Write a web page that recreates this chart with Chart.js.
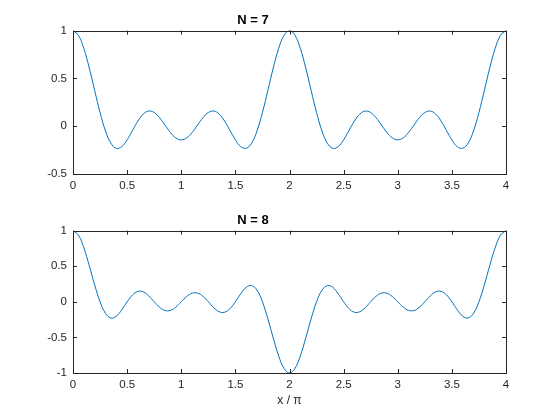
<!DOCTYPE html>
<html>
<head>
<meta charset="utf-8">
<script src="https://cdn.jsdelivr.net/npm/chart.js@4/dist/chart.umd.min.js"></script>
<style>
  html, body { margin: 0; padding: 0; background: #fff; }
  #wrap { position: relative; width: 560px; height: 420px; }
  .box { position: absolute; left: 0; width: 560px; }
</style>
</head>
<body>
<div id="wrap">
  <div class="box" style="top:0;height:200px"><canvas id="top"></canvas></div>
  <div class="box" style="top:200px;height:220px"><canvas id="bottom"></canvas></div>
</div>
<script>
// x / pi, sampled every 0.05
const xValues = [
  0, 0.05, 0.1, 0.15, 0.2, 0.25, 0.3, 0.35, 0.4, 0.45, 0.5, 0.55, 0.6, 0.65, 0.7, 0.75, 0.8, 0.85, 0.9, 0.95,
  1, 1.05, 1.1, 1.15, 1.2, 1.25, 1.3, 1.35, 1.4, 1.45, 1.5, 1.55, 1.6, 1.65, 1.7, 1.75, 1.8, 1.85, 1.9, 1.95,
  2, 2.05, 2.1, 2.15, 2.2, 2.25, 2.3, 2.35, 2.4, 2.45, 2.5, 2.55, 2.6, 2.65, 2.7, 2.75, 2.8, 2.85, 2.9, 2.95,
  3, 3.05, 3.1, 3.15, 3.2, 3.25, 3.3, 3.35, 3.4, 3.45, 3.5, 3.55, 3.6, 3.65, 3.7, 3.75, 3.8, 3.85, 3.9, 3.95, 4
];

const n7 = [
  1, 0.9514, 0.8137, 0.6100, 0.3740, 0.1429, -0.0492, -0.1776, -0.2311, -0.2139,
  -0.1429, -0.0439, 0.0546, 0.1274, 0.1584, 0.1429, 0.0883, 0.0115, -0.0657, -0.1222,
  -0.1429, -0.1222, -0.0657, 0.0115, 0.0883, 0.1429, 0.1584, 0.1274, 0.0546, -0.0439,
  -0.1429, -0.2139, -0.2311, -0.1776, -0.0492, 0.1429, 0.3740, 0.6100, 0.8137, 0.9514,
  1, 0.9514, 0.8137, 0.6100, 0.3740, 0.1429, -0.0492, -0.1776, -0.2311, -0.2139,
  -0.1429, -0.0439, 0.0546, 0.1274, 0.1584, 0.1429, 0.0883, 0.0115, -0.0657, -0.1222,
  -0.1429, -0.1222, -0.0657, 0.0115, 0.0883, 0.1429, 0.1584, 0.1274, 0.0546, -0.0439,
  -0.1429, -0.2139, -0.2311, -0.1776, -0.0492, 0.1429, 0.3740, 0.6100, 0.8137, 0.9514, 1
];

const n8 = [
  1, 0.9364, 0.7600, 0.5092, 0.2378, 0, -0.1618, -0.2275, -0.2023, -0.1131,
  0, 0.0966, 0.1469, 0.1394, 0.0825, 0, -0.0773, -0.1223, -0.1204, -0.0737,
  0, 0.0737, 0.1204, 0.1223, 0.0773, 0, -0.0825, -0.1394, -0.1469, -0.0966,
  0, 0.1131, 0.2023, 0.2275, 0.1618, 0, -0.2378, -0.5092, -0.7600, -0.9364,
  -1, -0.9364, -0.7600, -0.5092, -0.2378, 0, 0.1618, 0.2275, 0.2023, 0.1131,
  0, -0.0966, -0.1469, -0.1394, -0.0825, 0, 0.0773, 0.1223, 0.1204, 0.0737,
  0, -0.0737, -0.1204, -0.1223, -0.0773, 0, 0.0825, 0.1394, 0.1469, 0.0966,
  0, -0.1131, -0.2023, -0.2275, -0.1618, 0, 0.2378, 0.5092, 0.7600, 0.9364, 1
];

const xTicks = [0, 0.5, 1, 1.5, 2, 2.5, 3, 3.5, 4];
const yTicksTop = [-0.5, 0, 0.5, 1];
const yTicksBottom = [-1, -0.5, 0, 0.5, 1];

const ink = "#262626";
const lineColour = "#0072BD";
const fontFamily = "'Liberation Sans', Arial, Helvetica, sans-serif";

// MATLAB-style box with inward ticks on all four sides
const boxPlugin = {
  id: "box",
  afterDraw(chart) {
    const { ctx, chartArea: a, scales } = chart;
    const len = 4;
    ctx.save();
    ctx.strokeStyle = ink;
    ctx.lineWidth = 1;
    ctx.beginPath();
    scales.x.ticks.forEach((t) => {
      const px = Math.round(scales.x.getPixelForValue(t.value)) + 0.5;
      ctx.moveTo(px, a.bottom);
      ctx.lineTo(px, a.bottom - len);
      ctx.moveTo(px, a.top);
      ctx.lineTo(px, a.top + len);
    });
    scales.y.ticks.forEach((t) => {
      const py = Math.round(scales.y.getPixelForValue(t.value)) + 0.5;
      ctx.moveTo(a.left, py);
      ctx.lineTo(a.left + len, py);
      ctx.moveTo(a.right, py);
      ctx.lineTo(a.right - len, py);
    });
    ctx.stroke();
    ctx.strokeRect(Math.round(a.left) + 0.5, Math.round(a.top) + 0.5,
      Math.round(a.right - a.left), Math.round(a.bottom - a.top));
    ctx.restore();
  },
};

function makeChart(id, title, values, yMin, yTicks, xHeight, showXTitle) {
  new Chart(document.getElementById(id).getContext("2d"), {
    type: "line",
    data: {
      labels: xValues,
      datasets: [{
        data: values,
        borderColor: lineColour,
        borderWidth: 1,
        pointRadius: 0,
        tension: 0.4,
        fill: false,
      }],
    },
    options: {
      responsive: true,
      maintainAspectRatio: false,
      animation: false,
      events: [],
      layout: { padding: { left: 0, right: 54, top: 0, bottom: 0 } },
      plugins: {
        legend: { display: false },
        tooltip: { enabled: false },
        title: {
          display: true,
          text: title,
          color: "#000",
          font: { family: fontFamily, size: 13, weight: "bold", lineHeight: 1.2 },
          padding: { top: 13, bottom: 2 },
        },
      },
      scales: {
        x: {
          type: "linear",
          min: 0,
          max: 4,
          grid: { display: false, drawTicks: false },
          border: { display: false },
          afterBuildTicks: (s) => { s.ticks = xTicks.map((v) => ({ value: v })); },
          afterFit: (s) => { s.height = xHeight; },
          ticks: {
            color: ink,
            padding: 5,
            maxRotation: 0,
            autoSkip: false,
            font: { family: fontFamily, size: 11.5 },
            callback: (v) => String(v),
          },
          title: {
            display: showXTitle,
            text: "x / π",
            color: ink,
            font: { family: fontFamily, size: 12 },
            padding: { top: 2, bottom: 12 },
          },
        },
        y: {
          min: yMin,
          max: 1,
          grid: { display: false, drawTicks: false },
          border: { display: false },
          afterBuildTicks: (s) => { s.ticks = yTicks.map((v) => ({ value: v })); },
          afterFit: (s) => { s.width = 73; },
          ticks: {
            color: ink,
            padding: 6,
            font: { family: fontFamily, size: 11.5 },
            callback: (v) => String(v),
          },
        },
      },
    },
    plugins: [boxPlugin],
  });
}

makeChart("top", "N = 7", n7, -0.5, yTicksTop, 26, false);
makeChart("bottom", "N = 8", n8, -1, yTicksBottom, 47, true);
</script>
</body>
</html>
